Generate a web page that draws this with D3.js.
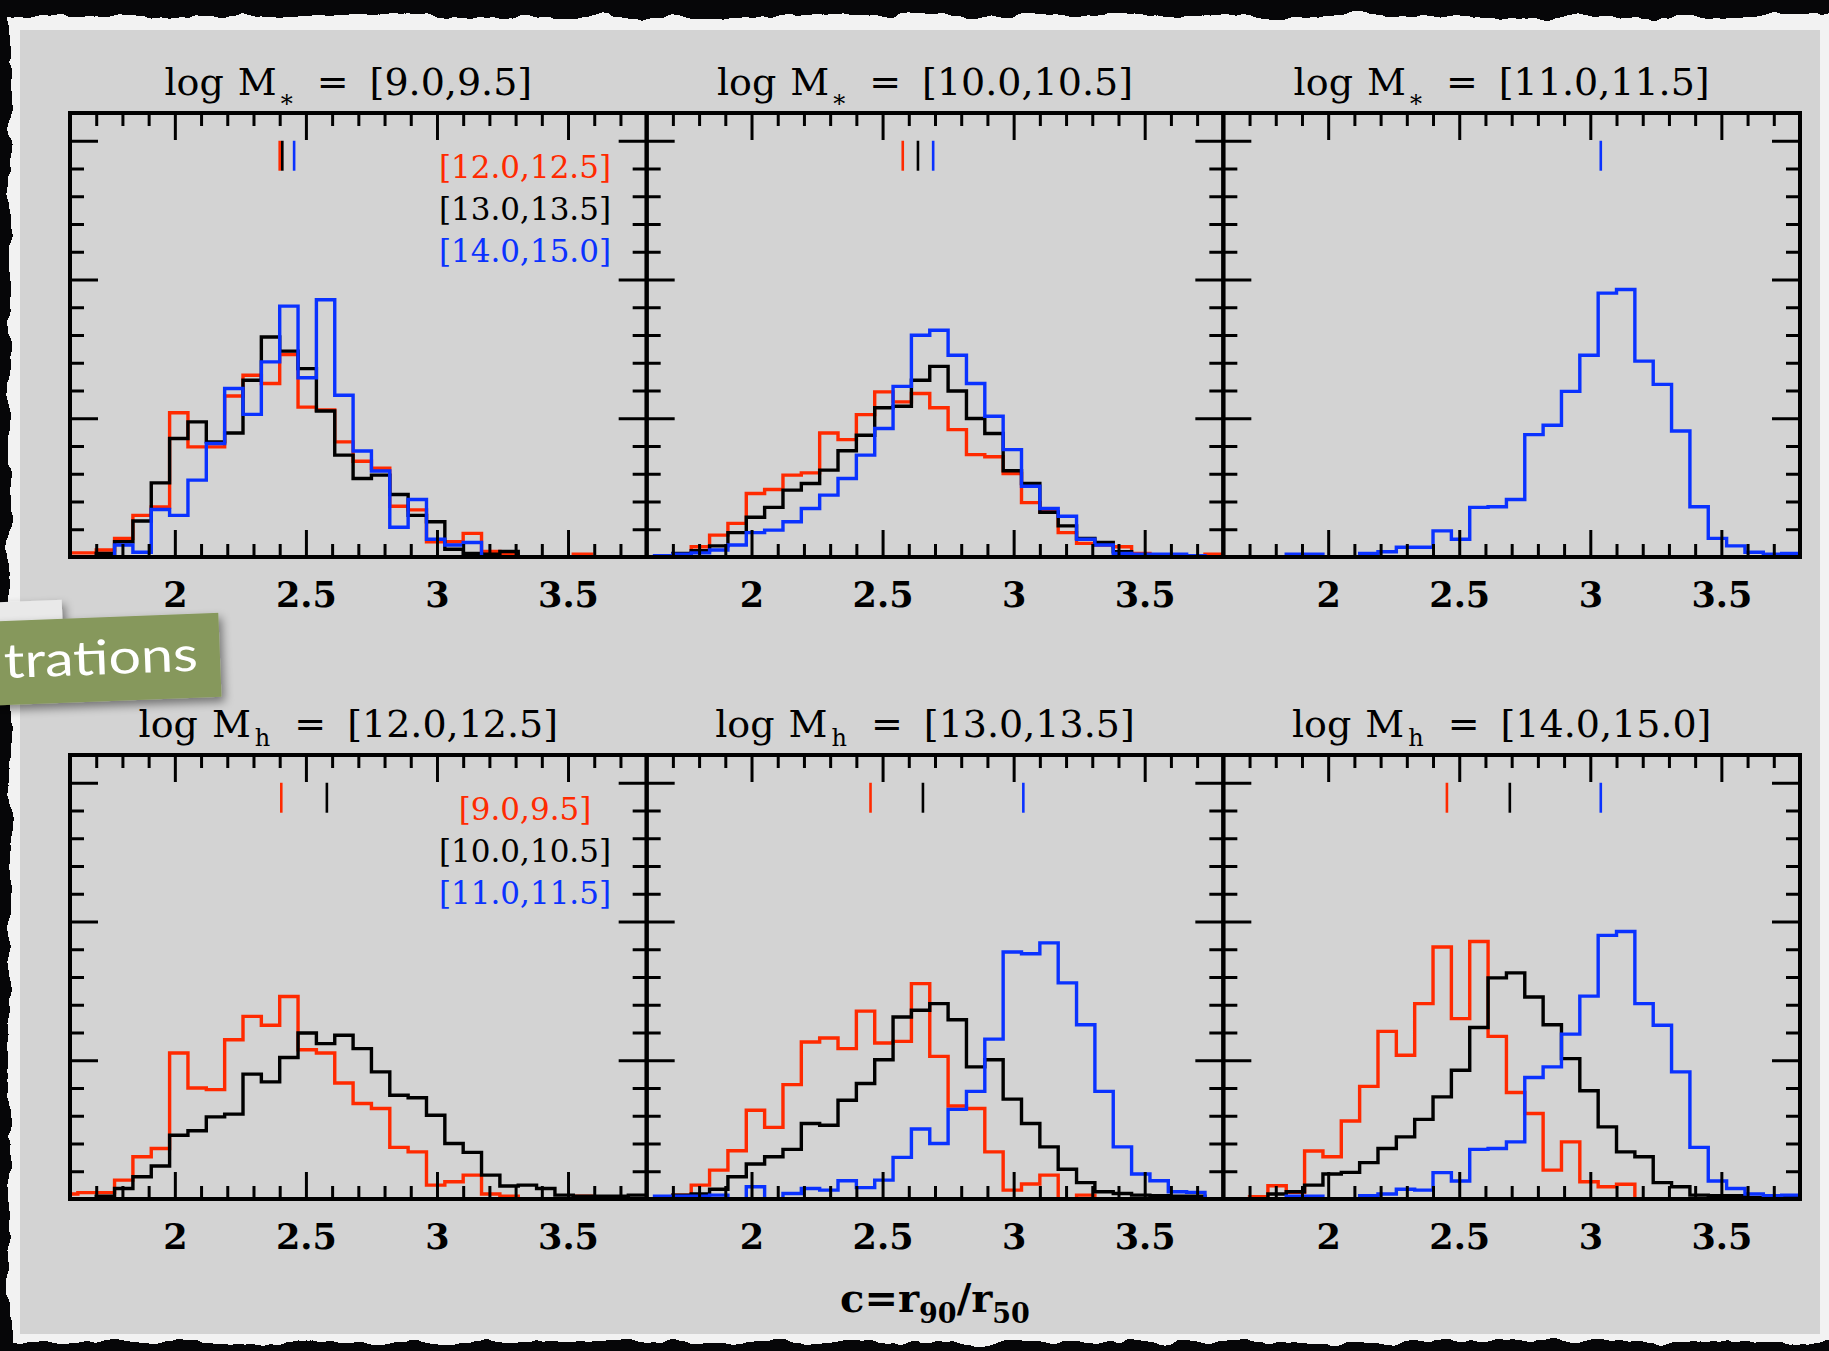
<!DOCTYPE html>
<html>
<head>
<meta charset="utf-8">
<script src="https://cdn.jsdelivr.net/npm/d3@7"></script>
<style>
  html, body { margin: 0; padding: 0; background: #050505; }
  svg { display: block; }
</style>
</head>
<body>
<div id="chart"></div>
<script>
// concentration histograms, 32 bins of width 0.07 starting at c = 1.56
const binStart = 1.56;
const binWidth = 0.07;
const xDomain = [1.6, 3.8];
const yDomain = [0, 16];
const xTickValues = [2, 2.5, 3, 3.5];
const xTickLabels = ["2", "2.5", "3", "3.5"];
const seriesColors = ["#ff2a00", "#000000", "#0a32ff"];

const starRanges = ["[9.0,9.5]", "[10.0,10.5]", "[11.0,11.5]"];    // log M*
const haloRanges = ["[12.0,12.5]", "[13.0,13.5]", "[14.0,15.0]"];  // log Mh

// top row : fixed stellar mass, colours = halo mass bins
const ms9Red   = [0.15,0.15,0.25,0.67,1.5,1.8,5.2,3.97,3.97,5.8,6.55,6.25,7.3,5.4,5.3,4.15,3.45,3.2,1.83,1.7,0.55,0.55,0.85,0.2,0.1,0,0,0,0.1,0,0,0];
const ms9Black = [0,0,0.13,0.55,1.3,2.67,4.27,4.87,4.15,4.47,6.37,7.93,7.42,6.79,5.26,3.67,2.83,2.95,2.25,1.5,1.27,0.28,0.13,0.1,0.2,0,0,0,0,0,0,0];
const ms9Blue  = [0,0,0,0.43,0.17,1.71,1.5,2.77,4.09,6.07,5.14,7.03,9.04,6.46,9.27,5.83,3.82,3.1,1.07,2.07,0.64,0.43,0.52,0,0,0,0,0,0,0,0,0];

const ms10Red   = [0,0,0.1,0.37,0.79,1.21,2.29,2.43,2.95,3.03,4.47,4.23,5.13,5.95,5.59,5.89,5.38,4.59,3.69,3.61,3.01,1.96,1.63,0.88,0.49,0.43,0.37,0.13,0.05,0.05,0.05,0.1];
const ms10Black = [0,0,0.13,0.23,0.4,0.88,1.43,1.79,2.41,2.65,3.13,3.83,4.39,5.38,5.43,6.37,6.87,5.98,4.99,4.45,3.11,2.65,1.61,1.12,0.67,0.52,0.19,0.05,0.05,0.05,0,0];
const ms10Blue  = [0,0.05,0.1,0.15,0.25,0.43,0.88,0.97,1.27,1.75,2.23,2.83,3.67,4.63,6.15,7.99,8.17,7.27,6.25,5.07,3.87,2.55,1.75,1.47,0.64,0.43,0.13,0.1,0.1,0.1,0.05,0];

const ms11Blue = [0,0,0,0,0.1,0.1,0,0,0.13,0.19,0.35,0.35,0.94,0.64,1.79,1.81,2.07,4.41,4.75,5.97,7.27,9.51,9.64,7.06,6.22,4.54,1.81,0.67,0.4,0.17,0.1,0.13];

// bottom row : fixed halo mass, colours = stellar mass bins
const mh12Red   = [0.18,0.23,0.23,0.68,1.52,1.82,5.26,4.0,3.94,5.74,6.58,6.26,7.3,5.38,5.26,4.18,3.44,3.26,1.86,1.7,0.5,0.62,0.86,0.18,0.1,0,0,0,0.1,0,0,0];
const mh12Black = [0,0,0.1,0.38,0.8,1.19,2.3,2.46,2.96,3.06,4.5,4.22,5.1,5.98,5.6,5.9,5.42,4.58,3.74,3.65,3.02,2.0,1.68,0.86,0.47,0.5,0.38,0.14,0.1,0.1,0.1,0.14];

const mh13Red   = [0,0,0.14,0.5,1.04,1.74,3.2,2.58,4.12,5.66,5.8,5.42,6.77,5.62,5.68,7.76,5.14,3.35,3.26,1.7,0.32,0.54,0.86,0,0.14,0,0,0,0,0,0,0];
const mh13Black = [0,0,0.14,0.18,0.35,0.8,1.26,1.52,1.79,2.72,2.66,3.56,4.16,5.02,6.56,6.8,7.04,6.46,4.76,5.02,3.6,2.72,1.88,1.07,0.59,0.26,0.2,0.14,0.12,0.1,0.1,0];
const mh13Blue  = [0,0.1,0.1,0.1,0.14,0,0.44,0,0.2,0.38,0.32,0.66,0.41,0.68,1.5,2.52,2.0,3.23,3.88,5.76,8.9,8.84,9.23,7.79,6.28,3.88,1.88,0.9,0.66,0.26,0.24,0];

const mh14Red   = [0,0,0.08,0.48,0.24,1.73,1.52,2.81,4.06,6.04,5.18,7.04,9.08,6.5,9.28,5.86,3.84,3.08,1.04,2.06,0.62,0.44,0.53,0,0,0,0,0,0,0,0,0];
const mh14Black = [0,0,0,0.18,0.26,0.5,0.9,0.96,1.31,1.82,2.24,2.87,3.68,4.64,6.18,7.97,8.15,7.28,6.28,5.06,3.9,2.6,1.7,1.52,0.59,0.44,0.14,0.12,0.12,0.05,0.05,0.05];
const mh14Blue  = [0,0,0,0,0.1,0.1,0,0,0.12,0.18,0.35,0.32,0.95,0.65,1.79,1.82,2.06,4.38,4.76,5.94,7.31,9.5,9.64,7.04,6.26,4.58,1.86,0.65,0.38,0.18,0.12,0.14];

// median concentration markers (red, black, blue)
const topMedians    = [[2.40, 2.41, 2.455], [2.577, 2.635, 2.693], [null, null, 3.04]];
const bottomMedians = [[2.406, 2.58, null], [2.454, 2.654, 3.037], [2.453, 2.693, 3.04]];

const topSeries    = [[ms9Red, ms9Black, ms9Blue], [ms10Red, ms10Black, ms10Blue], [null, null, ms11Blue]];
const bottomSeries = [[mh12Red, mh12Black, null], [mh13Red, mh13Black, mh13Blue], [mh14Red, mh14Black, mh14Blue]];

//basic geometry
const width = 1829, height = 1351;
const plotLeft = 70, plotRight = 1800;
const panelW = (plotRight - plotLeft) / 3;
const panelH = 444;
const rowTops = [113, 755];
const serif = "'DejaVu Serif', serif";

const svg = d3.select("#chart").append("svg")
  .attr("width", width)
  .attr("height", height);

const defs = svg.append("defs");
const rough = defs.append("filter").attr("id", "rough")
  .attr("x", "-2%").attr("y", "-2%").attr("width", "104%").attr("height", "104%");
rough.append("feTurbulence").attr("type", "fractalNoise").attr("baseFrequency", 0.03)
  .attr("numOctaves", 3).attr("seed", 5).attr("result", "noise");
rough.append("feDisplacementMap").attr("in", "SourceGraphic").attr("in2", "noise")
  .attr("scale", 14).attr("xChannelSelector", "R").attr("yChannelSelector", "G");
const shadow = defs.append("filter").attr("id", "shadow")
  .attr("x", "-20%").attr("y", "-20%").attr("width", "140%").attr("height", "150%");
shadow.append("feDropShadow").attr("dx", 3).attr("dy", 5).attr("stdDeviation", 5)
  .attr("flood-color", "#000").attr("flood-opacity", 0.45);
defs.append("clipPath").attr("id", "plotClip")
  .append("rect").attr("width", panelW).attr("height", panelH);

// slide background: black, torn paper edge, grey sheet
svg.append("rect").attr("width", width).attr("height", height).attr("fill", "#060608");
svg.append("rect").attr("x", 10).attr("y", 16).attr("width", width).attr("height", 1326)
  .attr("fill", "#f2f2f2").attr("filter", "url(#rough)");
svg.append("rect").attr("x", 20).attr("y", 30).attr("width", 1800).attr("height", 1304)
  .attr("fill", "#d3d3d3");

const x = d3.scaleLinear().domain(xDomain).range([0, panelW]);
const y = d3.scaleLinear().domain(yDomain).range([panelH, 0]);

const xMinor = d3.range(17, 38).map(d => d / 10).filter(d => !xTickValues.some(t => Math.abs(t - d) < 1e-6));
const yMajor = [5, 10, 15];
const yMinor = d3.range(1, 16).filter(d => d % 5 !== 0);

const stepLine = d3.line()
  .x(d => x(d[0]))
  .y(d => y(d[1]))
  .curve(d3.curveStepAfter);

function histPoints(values) {
  const pts = values.map((v, i) => [binStart + i * binWidth, v]);
  pts.push([binStart + values.length * binWidth, values[values.length - 1]]);
  return pts;
}

function addTitle(g, subText, subDy, range) {
  const t = g.append("text")
    .attr("x", panelW / 2 - 10)
    .attr("y", -18)
    .attr("text-anchor", "middle")
    .style("font-family", serif)
    .style("font-size", "38px")
    .attr("fill", "#000");
  t.append("tspan").text("log");
  t.append("tspan").attr("dx", 14).text("M");
  t.append("tspan").attr("dx", 4).attr("dy", subDy).style("font-size", "24px").text(subText);
  t.append("tspan").attr("dx", 24).attr("dy", -subDy).text("=");
  t.append("tspan").attr("dx", 21).text(range);
}

function styleTicks(sel) {
  sel.select(".domain").remove();
  sel.selectAll("line").attr("stroke", "#000").attr("stroke-width", 3);
}

function drawPanel(row, col, series, medians, legend, title) {
  const g = svg.append("g")
    .attr("transform", `translate(${plotLeft + col * panelW},${rowTops[row]})`);

  const lines = g.append("g").attr("clip-path", "url(#plotClip)");
  series.forEach((vals, i) => {
    if (!vals) return;
    lines.append("path")
      .attr("d", stepLine(histPoints(vals)))
      .attr("fill", "none")
      .attr("stroke", seriesColors[i])
      .attr("stroke-width", 3.4)
      .attr("stroke-linejoin", "miter");
  });

  // median markers near top
  medians.forEach((m, i) => {
    if (m === null) return;
    g.append("line")
      .attr("x1", x(m)).attr("x2", x(m))
      .attr("y1", y(15)).attr("y2", y(13.92))
      .attr("stroke", seriesColors[i])
      .attr("stroke-width", 2.6);
  });

  // legend only in first column
  if (legend) {
    legend.forEach((txt, i) => {
      g.append("text")
        .attr("x", 455)
        .attr("y", 65 + i * 42)
        .attr("text-anchor", "middle")
        .style("font-family", serif)
        .style("font-size", "31px")
        .attr("fill", seriesColors[i])
        .text(txt);
    });
  }

  // inward ticks on all four sides
  g.append("g").attr("transform", `translate(0,${panelH})`)
    .call(d3.axisTop(x).tickValues(xMinor).tickSize(13).tickFormat("")).call(styleTicks);
  g.append("g").attr("transform", `translate(0,${panelH})`)
    .call(d3.axisTop(x).tickValues(xTickValues).tickSize(27).tickFormat("")).call(styleTicks);
  g.append("g")
    .call(d3.axisBottom(x).tickValues(xMinor).tickSize(13).tickFormat("")).call(styleTicks);
  g.append("g")
    .call(d3.axisBottom(x).tickValues(xTickValues).tickSize(27).tickFormat("")).call(styleTicks);
  g.append("g")
    .call(d3.axisRight(y).tickValues(yMinor).tickSize(14).tickFormat("")).call(styleTicks);
  g.append("g")
    .call(d3.axisRight(y).tickValues(yMajor).tickSize(28).tickFormat("")).call(styleTicks);
  g.append("g").attr("transform", `translate(${panelW},0)`)
    .call(d3.axisLeft(y).tickValues(yMinor).tickSize(14).tickFormat("")).call(styleTicks);
  g.append("g").attr("transform", `translate(${panelW},0)`)
    .call(d3.axisLeft(y).tickValues(yMajor).tickSize(28).tickFormat("")).call(styleTicks);

  // tick labels
  const lab = g.append("g").attr("transform", `translate(0,${panelH})`)
    .call(d3.axisBottom(x).tickValues(xTickValues).tickSize(0).tickPadding(25)
      .tickFormat((d, i) => xTickLabels[i]));
  lab.select(".domain").remove();
  lab.selectAll("text")
    .style("font-family", serif)
    .style("font-size", "35px")
    .style("font-weight", "bold")
    .attr("fill", "#000");

  g.append("rect")
    .attr("width", panelW).attr("height", panelH)
    .attr("fill", "none").attr("stroke", "#000").attr("stroke-width", 4);

  addTitle(g, title.sub, title.dy, title.range);
}

topSeries.forEach((s, j) => drawPanel(0, j, s, topMedians[j], j === 0 ? haloRanges : null,
  {sub: "*", dy: 17, range: starRanges[j]}));
bottomSeries.forEach((s, j) => drawPanel(1, j, s, bottomMedians[j], j === 0 ? starRanges : null,
  {sub: "h", dy: 9, range: haloRanges[j]}));

// x axis title c = r90 / r50
const xt = svg.append("text")
  .attr("x", plotLeft + panelW * 1.5)
  .attr("y", 1312)
  .attr("text-anchor", "middle")
  .style("font-family", serif)
  .style("font-weight", "bold")
  .style("font-size", "40px")
  .attr("fill", "#000");
xt.append("tspan").text("c=r");
xt.append("tspan").attr("dy", 11).style("font-size", "27px").text("90");
xt.append("tspan").attr("dy", -11).text("/r");
xt.append("tspan").attr("dy", 11).style("font-size", "27px").text("50");

// slide label stuck on the left edge
const tag = svg.append("g").attr("transform", "rotate(-2.2, 110, 660)");
tag.append("rect").attr("x", -6).attr("y", 598).attr("width", 70).attr("height", 30)
  .attr("fill", "#e9e9e9").attr("filter", "url(#shadow)");
tag.append("rect").attr("x", -10).attr("y", 617).attr("width", 230).attr("height", 84)
  .attr("fill", "#86985c").attr("filter", "url(#shadow)");
tag.append("text")
  .attr("x", 4).attr("y", 674)
  .attr("textLength", 194).attr("lengthAdjust", "spacingAndGlyphs")
  .style("font-family", "Lato, 'Open Sans', sans-serif")
  .style("font-size", "48px")
  .attr("fill", "#ffffff")
  .text("trations");
</script>
</body>
</html>
